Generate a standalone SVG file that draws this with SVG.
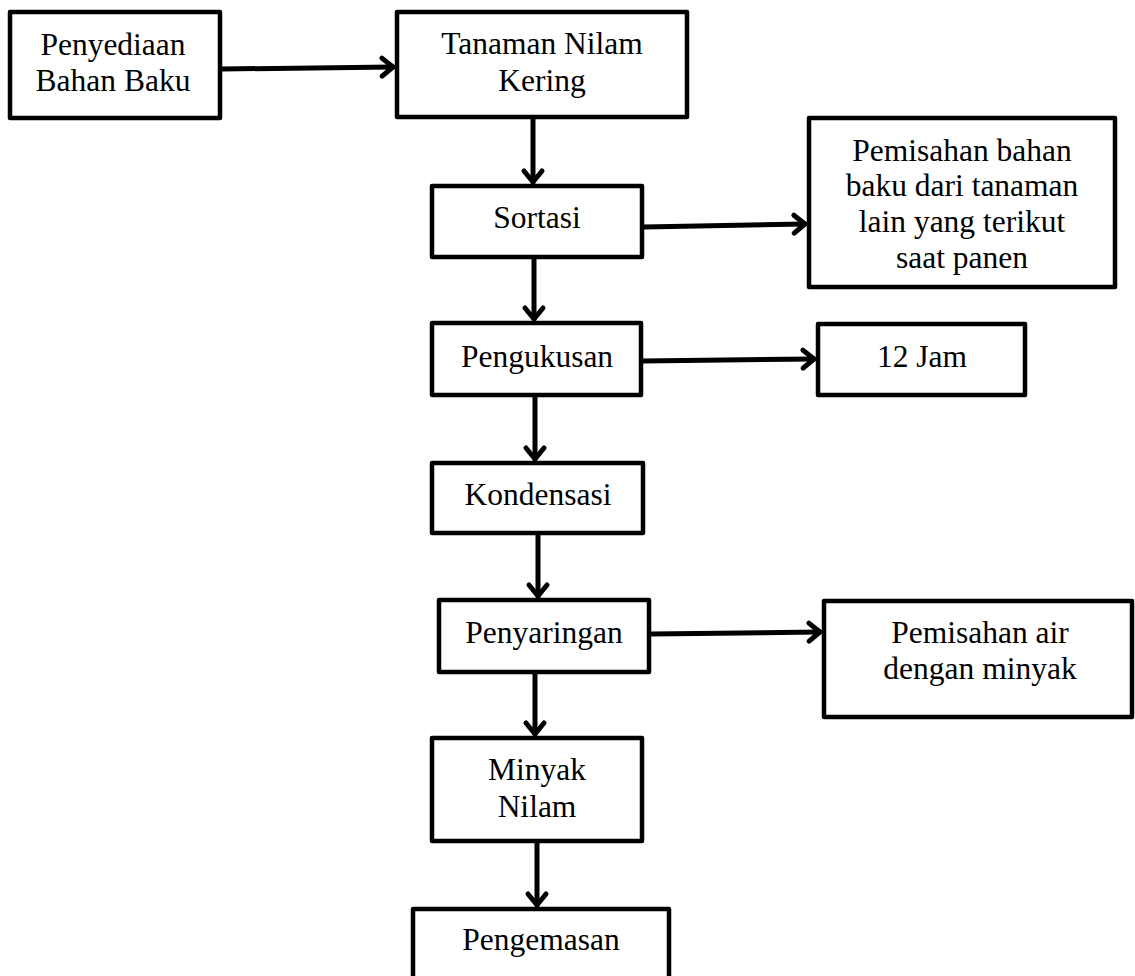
<svg xmlns="http://www.w3.org/2000/svg" width="1135" height="976" viewBox="0 0 1135 976">
<style>
.box{fill:#fff;stroke:#000;stroke-width:4.5;stroke-linejoin:round}
.t{font-family:"Liberation Serif","Times New Roman",serif;font-size:31.5px;fill:#000;text-anchor:middle}
.c{fill:none;stroke:#000;stroke-width:5;stroke-linecap:round}
</style>
<defs>
<marker id="arr" markerUnits="userSpaceOnUse" markerWidth="40" markerHeight="40" viewBox="-20 -20 40 40" refX="0" refY="0" orient="auto" overflow="visible">
<path d="M-11,-9 L0,0 L-11,9" fill="none" stroke="#000" stroke-width="5" stroke-linecap="round" stroke-linejoin="round"/>
</marker>
</defs>
<rect width="1135" height="976" fill="#fff"/>
<g id="connectors">
<line class="c" x1="222" y1="69" x2="393" y2="67" marker-end="url(#arr)"/>
<line class="c" x1="533" y1="119" x2="533" y2="182" marker-end="url(#arr)"/>
<line class="c" x1="644" y1="227" x2="805" y2="224" marker-end="url(#arr)"/>
<line class="c" x1="534" y1="258" x2="534" y2="319" marker-end="url(#arr)"/>
<line class="c" x1="643" y1="361" x2="814" y2="359" marker-end="url(#arr)"/>
<line class="c" x1="535" y1="396" x2="535" y2="459" marker-end="url(#arr)"/>
<line class="c" x1="538" y1="534" x2="538" y2="596" marker-end="url(#arr)"/>
<line class="c" x1="651" y1="634" x2="820" y2="632" marker-end="url(#arr)"/>
<line class="c" x1="535" y1="673" x2="535" y2="734" marker-end="url(#arr)"/>
<line class="c" x1="537" y1="842" x2="537" y2="905" marker-end="url(#arr)"/>
</g>
<g id="penyediaan">
<rect class="box" x="10" y="12" width="210" height="106"/>
<text class="t" x="113" y="55">Penyediaan</text>
<text class="t" x="113" y="91">Bahan Baku</text>
</g>
<g id="tanaman">
<rect class="box" x="397" y="12" width="290" height="105"/>
<text class="t" x="542" y="54">Tanaman Nilam</text>
<text class="t" x="542" y="91">Kering</text>
</g>
<g id="sortasi">
<rect class="box" x="432" y="186" width="210" height="71"/>
<text class="t" x="537" y="228">Sortasi</text>
</g>
<g id="pemisahan-bahan">
<rect class="box" x="809" y="118" width="306" height="169"/>
<text class="t" x="962" y="161">Pemisahan bahan</text>
<text class="t" x="962" y="196">baku dari tanaman</text>
<text class="t" x="962" y="232">lain yang terikut</text>
<text class="t" x="962" y="268">saat panen</text>
</g>
<g id="pengukusan">
<rect class="box" x="432" y="323" width="209" height="72"/>
<text class="t" x="537" y="367">Pengukusan</text>
</g>
<g id="jam">
<rect class="box" x="818" y="324" width="207" height="71"/>
<text class="t" x="922" y="367">12 Jam</text>
</g>
<g id="kondensasi">
<rect class="box" x="432" y="463" width="211" height="70"/>
<text class="t" x="538" y="505">Kondensasi</text>
</g>
<g id="penyaringan">
<rect class="box" x="439" y="600" width="210" height="72"/>
<text class="t" x="544" y="643">Penyaringan</text>
</g>
<g id="pemisahan-air">
<rect class="box" x="824" y="601" width="308" height="116"/>
<text class="t" x="980" y="643">Pemisahan air</text>
<text class="t" x="980" y="679">dengan minyak</text>
</g>
<g id="minyak">
<rect class="box" x="432" y="738" width="210" height="103"/>
<text class="t" x="537" y="780">Minyak</text>
<text class="t" x="537" y="817">Nilam</text>
</g>
<g id="pengemasan">
<rect class="box" x="413" y="909" width="256" height="90"/>
<text class="t" x="541" y="950">Pengemasan</text>
</g>
</svg>
